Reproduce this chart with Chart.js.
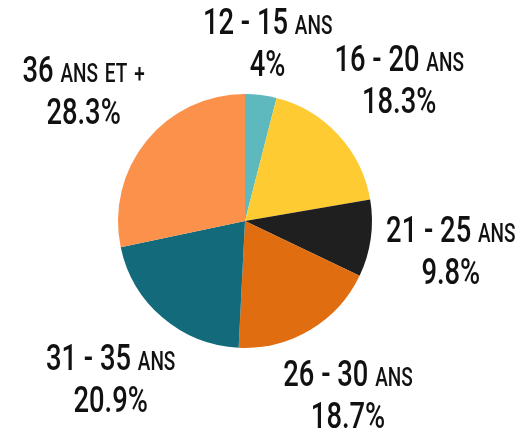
<!DOCTYPE html>
<html>
<head>
<meta charset="utf-8">
<script src="https://cdn.jsdelivr.net/npm/chart.js@4.4.1/dist/chart.umd.min.js"></script>
<style>
    html, body { margin: 0; padding: 0; background: #fff; }
    #wrap { width: 526px; height: 434px; position: relative; }
</style>
</head>
<body>
<div id="wrap"><canvas id="ageChart"></canvas></div>
<script>
const ageGroups = ['12 - 15 ans', '16 - 20 ans', '21 - 25 ans', '26 - 30 ans', '31 - 35 ans', '36 ans et +'];
const shares = [4, 18.3, 9.8, 18.7, 20.9, 28.3];
const sliceColors = ['#5db9be', '#fecb33', '#1f1f1f', '#e06d10', '#136a7a', '#fb914b'];

const FONT_FAMILY = 'Roboto, "Liberation Sans", sans-serif';
const FONT_WEIGHT = 500;
const FONT_SIZE = 36;
const SMALL_SIZE = 25;
const SQUEEZE = 0.76;
const LABEL_GAP = 12;

// split a label into runs: digits/symbols at full size, lowercase words as small caps
function runsOf(text) {
    const runs = [];
    text.split(/(\s+)/).forEach(p => {
        if (p === '') return;
        const small = /^[a-z+]+$/.test(p);
        runs.push({ text: small ? p.toUpperCase() : p, size: small ? SMALL_SIZE : FONT_SIZE });
    });
    return runs;
}

function runsWidth(ctx, runs) {
    let w = 0;
    runs.forEach(r => {
        ctx.font = `${FONT_WEIGHT} ${r.size}px ${FONT_FAMILY}`;
        w += ctx.measureText(r.text).width;
    });
    return w * SQUEEZE;
}

function drawRuns(ctx, runs, cx, baseline) {
    const total = runsWidth(ctx, runs);
    ctx.save();
    ctx.translate(cx - total / 2, baseline);
    ctx.scale(SQUEEZE, 1);
    let x = 0;
    runs.forEach(r => {
        ctx.font = `${FONT_WEIGHT} ${r.size}px ${FONT_FAMILY}`;
        ctx.fillText(r.text, x, 0);
        x += ctx.measureText(r.text).width;
    });
    ctx.restore();
}

const outsideLabels = {
    id: 'outsideLabels',
    afterDatasetsDraw(chart) {
        const ctx = chart.ctx;
        const meta = chart.getDatasetMeta(0);
        ctx.save();
        ctx.fillStyle = '#111';
        ctx.textBaseline = 'alphabetic';
        meta.data.forEach((arc, i) => {
            const p = arc.getProps(['x', 'y', 'startAngle', 'endAngle', 'outerRadius'], true);
            const mid = (p.startAngle + p.endAngle) / 2;
            const dx = Math.cos(mid), dy = Math.sin(mid);
            const line1 = runsOf(ageGroups[i]);
            const line2 = runsOf(shares[i] + '%');
            const w = Math.max(runsWidth(ctx, line1), runsWidth(ctx, line2));
            const h = 68;
            const extent = Math.abs(dx) * w / 2 + Math.abs(dy) * h / 2;
            const dist = p.outerRadius + LABEL_GAP + extent;
            const cx = p.x + dx * dist;
            const cy = p.y + dy * dist;
            drawRuns(ctx, line1, cx, cy - 8);
            drawRuns(ctx, line2, cx, cy + 34);
        });
        ctx.restore();
    }
};

const ctx = document.getElementById('ageChart').getContext('2d');
new Chart(ctx, {
    type: 'pie',
    data: {
        labels: ageGroups,
        datasets: [{
            data: shares,
            backgroundColor: sliceColors,
            borderWidth: 0
        }]
    },
    options: {
        responsive: true,
        maintainAspectRatio: false,
        animation: false,
        layout: {
            padding: { top: 94, bottom: 86, left: 118, right: 154 }
        },
        plugins: {
            legend: { display: false },
            tooltip: { enabled: false }
        }
    },
    plugins: [outsideLabels]
});
</script>
</body>
</html>
